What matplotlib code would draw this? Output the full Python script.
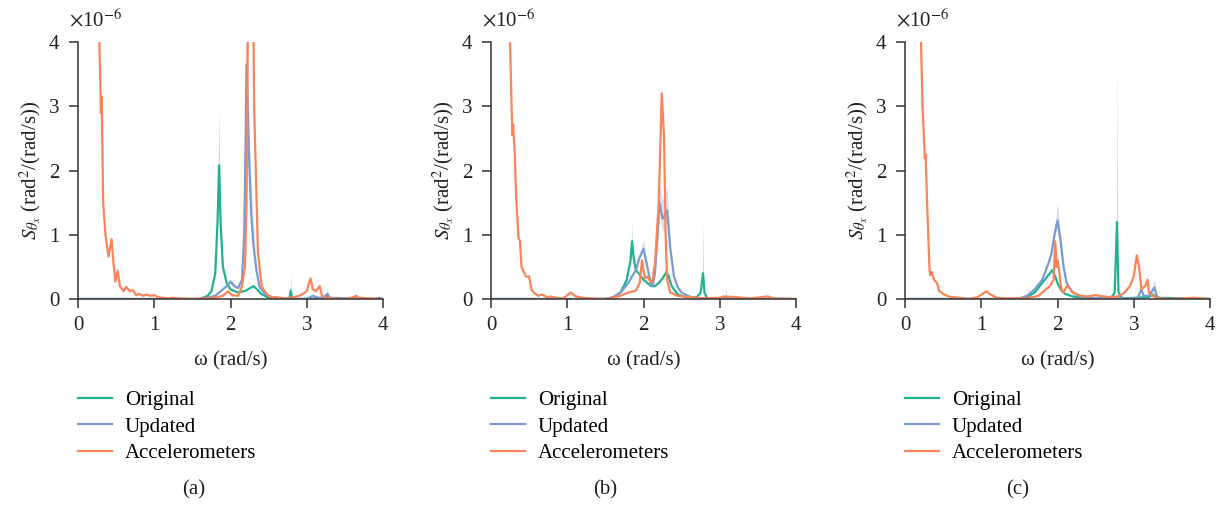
import matplotlib.pyplot as plt
import numpy as np

plt.rcParams['font.family'] = ['Liberation Serif', 'DejaVu Serif']
plt.rcParams['mathtext.fontset'] = 'stix'

green = '#1fb28e'
blue = '#7b9bd0'
orange = '#fb8359'

# ---- panel (a) ----
a_w_orig = [0, 1.6, 1.7, 1.75, 1.8, 1.83, 1.85, 1.87, 1.9, 1.95, 2.0, 2.1, 2.2, 2.3, 2.35, 2.4, 2.5, 2.6, 2.77, 2.79, 2.81, 2.9, 3.2, 3.25, 3.3, 4]
a_s_orig = [0, 0, 0.05, 0.12, 0.4, 1.2, 2.08, 1.2, 0.5, 0.25, 0.15, 0.1, 0.13, 0.2, 0.15, 0.08, 0.02, 0.01, 0.0, 0.13, 0.0, 0.0, 0.01, 0.05, 0.0, 0]
a_w_upd = [0, 1.6, 1.7, 1.8, 1.9, 1.95, 2.0, 2.05, 2.1, 2.15, 2.18, 2.2, 2.21, 2.24, 2.27, 2.3, 2.34, 2.38, 2.45, 2.5, 2.6, 3.0, 3.08, 3.15, 3.22, 3.27, 3.3, 3.9, 3.95, 4]
a_s_upd = [0, 0, 0.02, 0.05, 0.15, 0.2, 0.27, 0.2, 0.17, 0.3, 1.0, 2.6, 3.65, 2.3, 1.35, 0.85, 0.45, 0.19, 0.08, 0.05, 0.01, 0.0, 0.05, 0.02, 0.02, 0.08, 0.02, 0.0, 0.02, 0]
a_w_acc = [0.27, 0.29, 0.30, 0.31, 0.33, 0.36, 0.40, 0.44, 0.47, 0.49, 0.52, 0.55, 0.6, 0.63, 0.68, 0.72, 0.76, 0.8, 0.85, 0.9, 0.95, 1.0, 1.05, 1.1, 1.2, 1.25, 1.3, 1.5, 1.8, 1.9, 1.97, 2.02, 2.1, 2.15, 2.19, 2.21, 2.23, 2.26, 2.29, 2.31, 2.36, 2.41, 2.45, 2.5, 2.55, 2.6, 2.7, 2.8, 2.9, 2.95, 3.0, 3.03, 3.05, 3.08, 3.12, 3.17, 3.2, 3.25, 3.3, 3.5, 3.62, 3.65, 3.68, 3.8, 4]
a_s_acc = [4.5, 3.5, 2.9, 3.15, 1.5, 1.0, 0.66, 0.93, 0.5, 0.27, 0.44, 0.2, 0.12, 0.19, 0.12, 0.14, 0.06, 0.08, 0.05, 0.07, 0.05, 0.06, 0.03, 0.02, 0.01, 0.02, 0.01, 0.0, 0.02, 0.05, 0.12, 0.06, 0.05, 0.2, 0.5, 1.5, 4.5, 12, 6, 3.0, 0.72, 0.19, 0.12, 0.05, 0.02, 0.03, 0.01, 0.02, 0.05, 0.08, 0.12, 0.25, 0.32, 0.15, 0.12, 0.2, 0.05, 0.02, 0.01, 0.0, 0.03, 0.05, 0.02, 0.01, 0]
# spread bands: (series, omega, lower, upper)
a_bands = [
    ('orig', [1.83, 1.85, 1.87], [1.2, 2.08, 1.2], [1.3, 2.95, 1.3]),
    ('orig', [2.78, 2.79, 2.80], [0.05, 0.13, 0.05], [0.05, 0.42, 0.05]),
    ('upd', [1.93, 2.0, 2.07], [0.18, 0.25, 0.17], [0.22, 0.32, 0.22]),
    ('upd', [2.17, 2.2, 2.21, 2.23, 2.27, 2.32], [0.7, 2.6, 3.6, 2.4, 1.3, 0.6], [0.9, 4.5, 5.0, 3.5, 1.8, 0.8]),
    ('upd', [3.24, 3.27, 3.3], [0.03, 0.08, 0.02], [0.04, 0.16, 0.03]),
]

# ---- panel (b) ----
b_w_orig = [0, 1.5, 1.6, 1.7, 1.78, 1.83, 1.85, 1.87, 1.9, 1.95, 2.0, 2.05, 2.1, 2.15, 2.2, 2.25, 2.3, 2.33, 2.37, 2.45, 2.55, 2.7, 2.75, 2.78, 2.8, 2.83, 2.9, 4]
b_s_orig = [0, 0, 0.02, 0.1, 0.3, 0.6, 0.9, 0.65, 0.45, 0.38, 0.3, 0.25, 0.2, 0.2, 0.25, 0.32, 0.42, 0.35, 0.2, 0.07, 0.03, 0.03, 0.1, 0.4, 0.1, 0.02, 0.0, 0]
b_w_upd = [0, 1.5, 1.6, 1.7, 1.8, 1.9, 1.95, 2.0, 2.05, 2.1, 2.12, 2.15, 2.18, 2.21, 2.25, 2.28, 2.31, 2.35, 2.4, 2.45, 2.5, 2.6, 2.7, 3.05, 3.08, 3.11, 4]
b_s_upd = [0, 0, 0.03, 0.1, 0.25, 0.45, 0.65, 0.78, 0.5, 0.22, 0.2, 0.4, 0.9, 1.5, 1.25, 1.3, 1.38, 0.8, 0.35, 0.18, 0.1, 0.04, 0.01, 0.0, 0.03, 0.0, 0]
b_w_acc = [0.25, 0.27, 0.28, 0.29, 0.31, 0.33, 0.36, 0.38, 0.40, 0.43, 0.46, 0.5, 0.53, 0.56, 0.62, 0.67, 0.75, 0.78, 0.85, 0.95, 1.0, 1.05, 1.1, 1.15, 1.2, 1.3, 1.5, 1.6, 1.7, 1.8, 1.9, 1.95, 1.98, 2.0, 2.02, 2.05, 2.1, 2.12, 2.15, 2.2, 2.24, 2.27, 2.29, 2.31, 2.35, 2.45, 2.6, 2.8, 3.0, 3.05, 3.2, 3.4, 3.63, 3.7, 4]
b_s_acc = [4.0, 3.0, 2.55, 2.72, 2.3, 1.6, 0.95, 0.9, 0.5, 0.42, 0.35, 0.35, 0.15, 0.1, 0.05, 0.07, 0.02, 0.04, 0.02, 0.01, 0.06, 0.1, 0.05, 0.03, 0.02, 0.01, 0.0, 0.02, 0.05, 0.1, 0.13, 0.25, 0.6, 0.45, 0.32, 0.35, 0.25, 0.3, 0.55, 1.5, 3.2, 2.5, 1.0, 0.3, 0.1, 0.05, 0.03, 0.01, 0.02, 0.04, 0.03, 0.01, 0.04, 0.01, 0]
b_bands = [
    ('orig', [1.84, 1.85, 1.86], [0.75, 0.9, 0.75], [0.75, 1.22, 0.75]),
    ('orig', [2.25, 2.3, 2.34], [0.3, 0.4, 0.3], [0.35, 0.48, 0.35]),
    ('orig', [2.77, 2.78, 2.79], [0.25, 0.4, 0.25], [0.25, 1.22, 0.25]),
    ('upd', [1.95, 2.0, 2.05], [0.62, 0.76, 0.48], [0.7, 0.93, 0.55]),
    ('upd', [2.15, 2.18, 2.21, 2.25, 2.28, 2.31, 2.35], [0.38, 0.85, 1.3, 1.05, 1.1, 1.25, 0.75], [0.45, 1.05, 1.82, 1.55, 1.65, 1.75, 0.95]),
    ('upd', [3.07, 3.08, 3.09], [0.01, 0.03, 0.01], [0.01, 0.2, 0.01]),
]

# ---- panel (c) ----
c_w_orig = [0, 1.5, 1.6, 1.7, 1.8, 1.9, 1.93, 1.97, 2.0, 2.05, 2.1, 2.2, 2.4, 2.7, 2.75, 2.78, 2.8, 2.85, 3.2, 3.25, 3.3, 4]
c_s_orig = [0, 0, 0.03, 0.1, 0.25, 0.4, 0.45, 0.35, 0.25, 0.13, 0.08, 0.04, 0.01, 0.01, 0.1, 1.2, 0.1, 0.01, 0.03, 0.07, 0.02, 0]
c_w_upd = [0, 1.4, 1.5, 1.6, 1.7, 1.8, 1.88, 1.92, 1.96, 2.0, 2.04, 2.08, 2.12, 2.2, 2.3, 2.5, 3.05, 3.1, 3.13, 3.2, 3.27, 3.3, 3.35, 4]
c_s_upd = [0, 0, 0.01, 0.05, 0.15, 0.3, 0.55, 0.7, 1.0, 1.22, 0.9, 0.5, 0.25, 0.1, 0.04, 0.01, 0.01, 0.15, 0.05, 0.05, 0.18, 0.05, 0.0, 0]
c_w_acc = [0.21, 0.23, 0.26, 0.27, 0.29, 0.32, 0.33, 0.35, 0.38, 0.42, 0.45, 0.5, 0.55, 0.6, 0.7, 0.85, 0.95, 1.02, 1.07, 1.12, 1.2, 1.3, 1.6, 1.75, 1.85, 1.9, 1.95, 1.97, 1.99, 2.0, 2.02, 2.05, 2.08, 2.12, 2.15, 2.2, 2.3, 2.4, 2.5, 2.6, 2.7, 2.8, 2.88, 2.95, 3.0, 3.04, 3.07, 3.1, 3.15, 3.18, 3.2, 3.25, 3.3, 3.5, 3.8, 4]
c_s_acc = [4.0, 3.0, 2.19, 2.25, 1.5, 0.5, 0.37, 0.42, 0.3, 0.25, 0.12, 0.08, 0.05, 0.03, 0.02, 0.0, 0.03, 0.08, 0.12, 0.07, 0.02, 0.01, 0.01, 0.05, 0.15, 0.2, 0.3, 0.9, 0.5, 0.6, 0.45, 0.15, 0.1, 0.2, 0.18, 0.1, 0.05, 0.04, 0.06, 0.04, 0.03, 0.04, 0.1, 0.2, 0.35, 0.68, 0.5, 0.15, 0.2, 0.3, 0.1, 0.05, 0.01, 0.0, 0.02, 0]
c_bands = [
    ('orig', [2.77, 2.78, 2.79], [0.6, 1.2, 0.6], [0.6, 3.75, 0.6]),
    ('upd', [1.9, 1.96, 2.0, 2.04, 2.08], [0.6, 0.95, 1.15, 0.85, 0.45], [0.72, 1.1, 1.48, 1.05, 0.55]),
    ('upd', [3.08, 3.1, 3.12], [0.05, 0.13, 0.05], [0.07, 0.2, 0.07]),
    ('upd', [3.24, 3.27, 3.3], [0.08, 0.16, 0.05], [0.12, 0.33, 0.08]),
]

panels = [
    (a_w_orig, a_s_orig, a_w_upd, a_s_upd, a_w_acc, a_s_acc, a_bands, '(a)'),
    (b_w_orig, b_s_orig, b_w_upd, b_s_upd, b_w_acc, b_s_acc, b_bands, '(b)'),
    (c_w_orig, c_s_orig, c_w_upd, c_s_upd, c_w_acc, c_s_acc, c_bands, '(c)'),
]

fig = plt.figure(figsize=(12.21, 5.07), dpi=100)
lefts = [78, 491, 905]
cap_x = [194, 605, 1018]
fs = 15
txt = '#222222'

for left, cx, p in zip(lefts, cap_x, panels):
    w_o, s_o, w_u, s_u, w_a, s_a, bands, cap = p
    ax = fig.add_axes([left / 1221, 1 - 299 / 507, 305 / 1221, 257 / 507])

    for which, bw, lo, hi in bands:
        col = green if which == 'orig' else blue
        ax.fill_between(bw, lo, hi, color=col, alpha=0.3, lw=0)

    ax.plot(w_o, s_o, color=green, lw=1.6, label='Original')
    ax.plot(w_u, s_u, color=blue, lw=1.6, label='Updated')
    ax.plot(w_a, s_a, color=orange, lw=1.6, label='Accelerometers')

    ax.set_xlim(0, 4)
    ax.set_ylim(0, 4)
    ax.set_xticks([0, 1, 2, 3, 4])
    ax.set_yticks([0, 1, 2, 3, 4])
    for side in ['top', 'right']:
        ax.spines[side].set_visible(False)
    for side in ['left', 'bottom']:
        ax.spines[side].set_color('#333333')
        ax.spines[side].set_linewidth(1.1)
    ax.tick_params(colors='#333333', labelcolor=txt, labelsize=fs, length=6.5, width=1.1)
    ax.tick_params(axis='x', pad=6)
    ax.tick_params(axis='y', pad=7)

    ax.set_xlabel('ω (rad/s)', fontsize=fs, color=txt)
    ax.xaxis.set_label_coords(0.5, -0.205)
    ax.set_ylabel(r'$S_{\theta_x}$ (rad$^2$/(rad/s))', fontsize=fs, color=txt)
    ax.yaxis.set_label_coords(-0.115, 0.5)
    ax.text(-0.03, 1.04, r'$\times$10$^{-6}$', transform=ax.transAxes, fontsize=fs, color=txt, va='bottom')

    ax.legend(loc='upper left', bbox_to_anchor=(0.0, -0.357), frameon=False, fontsize=fs,
              handlelength=1.65, handletextpad=0.6, labelspacing=0.33, borderpad=0, borderaxespad=0)
    fig.text(cx / 1221, 1 - 490 / 507, cap, fontsize=fs, color=txt, ha='center', va='center')

fig.savefig('out.png', dpi=100)
